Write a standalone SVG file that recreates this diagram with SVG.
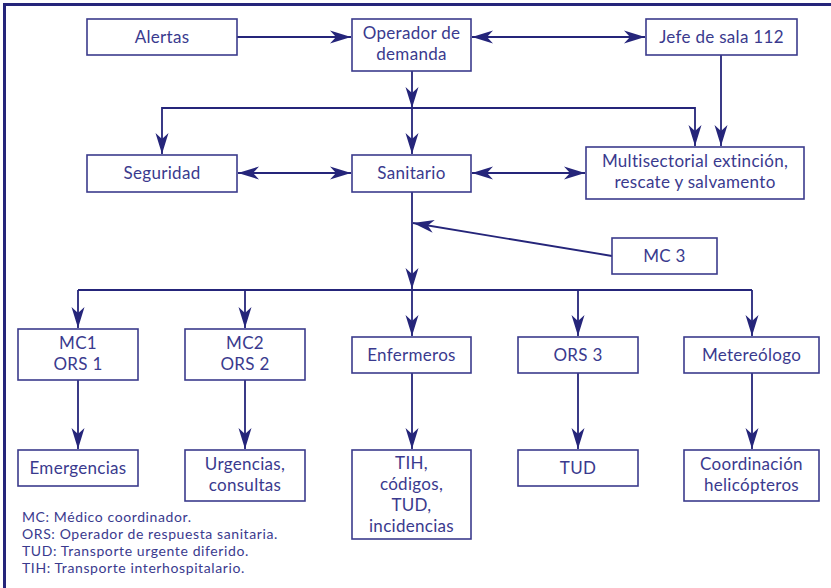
<svg xmlns="http://www.w3.org/2000/svg" width="831" height="588" viewBox="0 0 831 588">
<style>
.box{fill:#fff;stroke:#3b3b8c;stroke-width:1.6}
.t{font-family:Lato,"Open Sans","Liberation Sans",sans-serif;font-size:17px;letter-spacing:0.3px;fill:#3a3a8e;text-anchor:middle}
.lg{font-family:Lato,"Open Sans","Liberation Sans",sans-serif;font-size:14px;letter-spacing:0.6px;fill:#3a3a8e}
.c{fill:none;stroke:#25257a;stroke-width:1.8}
.e{marker-end:url(#ah)}
.b{marker-start:url(#ah);marker-end:url(#ah)}
</style>
<defs>
<marker id="ah" viewBox="-22 -7 23 14" refX="0" refY="0" markerWidth="23" markerHeight="14" orient="auto-start-reverse" markerUnits="userSpaceOnUse">
<path d="M0,0 L-21,-6.5 L-15,0 L-21,6.5 Z" fill="#25257a"/>
</marker>
</defs>
<rect width="831" height="588" fill="#fff"/>
<path d="M4.5,588 V4.5 H831" fill="none" stroke="#25257a" stroke-width="3"/>

<g id="connectors">
<path class="c e" d="M237,37 H351"/>
<path class="c b" d="M472,37 H645"/>
<path class="c e" d="M412,71 V108"/>
<path class="c e" d="M412,108 H162 V154"/>
<path class="c e" d="M412,108 H695 V146"/>
<path class="c e" d="M412,108 V154"/>
<path class="c e" d="M721,55 V146"/>
<path class="c b" d="M238,173 H351"/>
<path class="c b" d="M472,173 H585"/>
<path class="c e" d="M412,192 V289"/>
<path class="c e" d="M612,256 L413,223"/>
<path class="c" d="M78,290 H752"/>
<path class="c e" d="M78,290 V328"/>
<path class="c e" d="M245,290 V328"/>
<path class="c e" d="M412,290 V336"/>
<path class="c e" d="M578,290 V336"/>
<path class="c e" d="M752,290 V336"/>
<path class="c e" d="M78,380 V449"/>
<path class="c e" d="M245,380 V449"/>
<path class="c e" d="M412,373 V449"/>
<path class="c e" d="M578,373 V449"/>
<path class="c e" d="M752,373 V449"/>
</g>

<g id="alertas"><rect class="box" x="87" y="19" width="150" height="36"/><text class="t" x="162" y="43">Alertas</text></g>
<g id="operador"><rect class="box" x="352" y="19" width="119" height="52"/><text class="t" x="411.5" y="39">Operador de</text><text class="t" x="411.5" y="60">demanda</text></g>
<g id="jefe"><rect class="box" x="646" y="19" width="151" height="36"/><text class="t" x="721.5" y="43">Jefe de sala 112</text></g>
<g id="seguridad"><rect class="box" x="87" y="155" width="150" height="37"/><text class="t" x="162" y="179">Seguridad</text></g>
<g id="sanitario"><rect class="box" x="352" y="155" width="119" height="37"/><text class="t" x="411.5" y="179">Sanitario</text></g>
<g id="multisectorial"><rect class="box" x="586" y="147" width="218" height="52"/><text class="t" x="695" y="167">Multisectorial extinción,</text><text class="t" x="695" y="188">rescate y salvamento</text></g>
<g id="mc3"><rect class="box" x="612" y="238" width="105" height="36"/><text class="t" x="664.5" y="262">MC 3</text></g>
<g id="mc1"><rect class="box" x="18" y="329" width="120" height="51"/><text class="t" x="78" y="349">MC1</text><text class="t" x="78" y="370">ORS 1</text></g>
<g id="mc2"><rect class="box" x="185" y="329" width="120" height="51"/><text class="t" x="245" y="349">MC2</text><text class="t" x="245" y="370">ORS 2</text></g>
<g id="enfermeros"><rect class="box" x="352" y="337" width="119" height="36"/><text class="t" x="411.5" y="361">Enfermeros</text></g>
<g id="ors3"><rect class="box" x="518" y="337" width="120" height="36"/><text class="t" x="578" y="361">ORS 3</text></g>
<g id="metereologo"><rect class="box" x="684" y="337" width="135" height="36"/><text class="t" x="751.5" y="361">Metereólogo</text></g>
<g id="emergencias"><rect class="box" x="18" y="450" width="120" height="36"/><text class="t" x="78" y="474">Emergencias</text></g>
<g id="urgencias"><rect class="box" x="185" y="450" width="120" height="51"/><text class="t" x="245" y="470">Urgencias,</text><text class="t" x="245" y="491">consultas</text></g>
<g id="tih"><rect class="box" x="352" y="450" width="119" height="89"/><text class="t" x="411.5" y="469">TIH,</text><text class="t" x="411.5" y="490">códigos,</text><text class="t" x="411.5" y="511">TUD,</text><text class="t" x="411.5" y="532">incidencias</text></g>
<g id="tud"><rect class="box" x="518" y="450" width="120" height="36"/><text class="t" x="578" y="474">TUD</text></g>
<g id="coordinacion"><rect class="box" x="684" y="450" width="135" height="51"/><text class="t" x="751.5" y="470">Coordinación</text><text class="t" x="751.5" y="491">helicópteros</text></g>

<g id="legend">
<text class="lg" x="22" y="522">MC: Médico coordinador.</text>
<text class="lg" x="22" y="539">ORS: Operador de respuesta sanitaria.</text>
<text class="lg" x="22" y="556">TUD: Transporte urgente diferido.</text>
<text class="lg" x="22" y="573">TIH: Transporte interhospitalario.</text>
</g>
</svg>
